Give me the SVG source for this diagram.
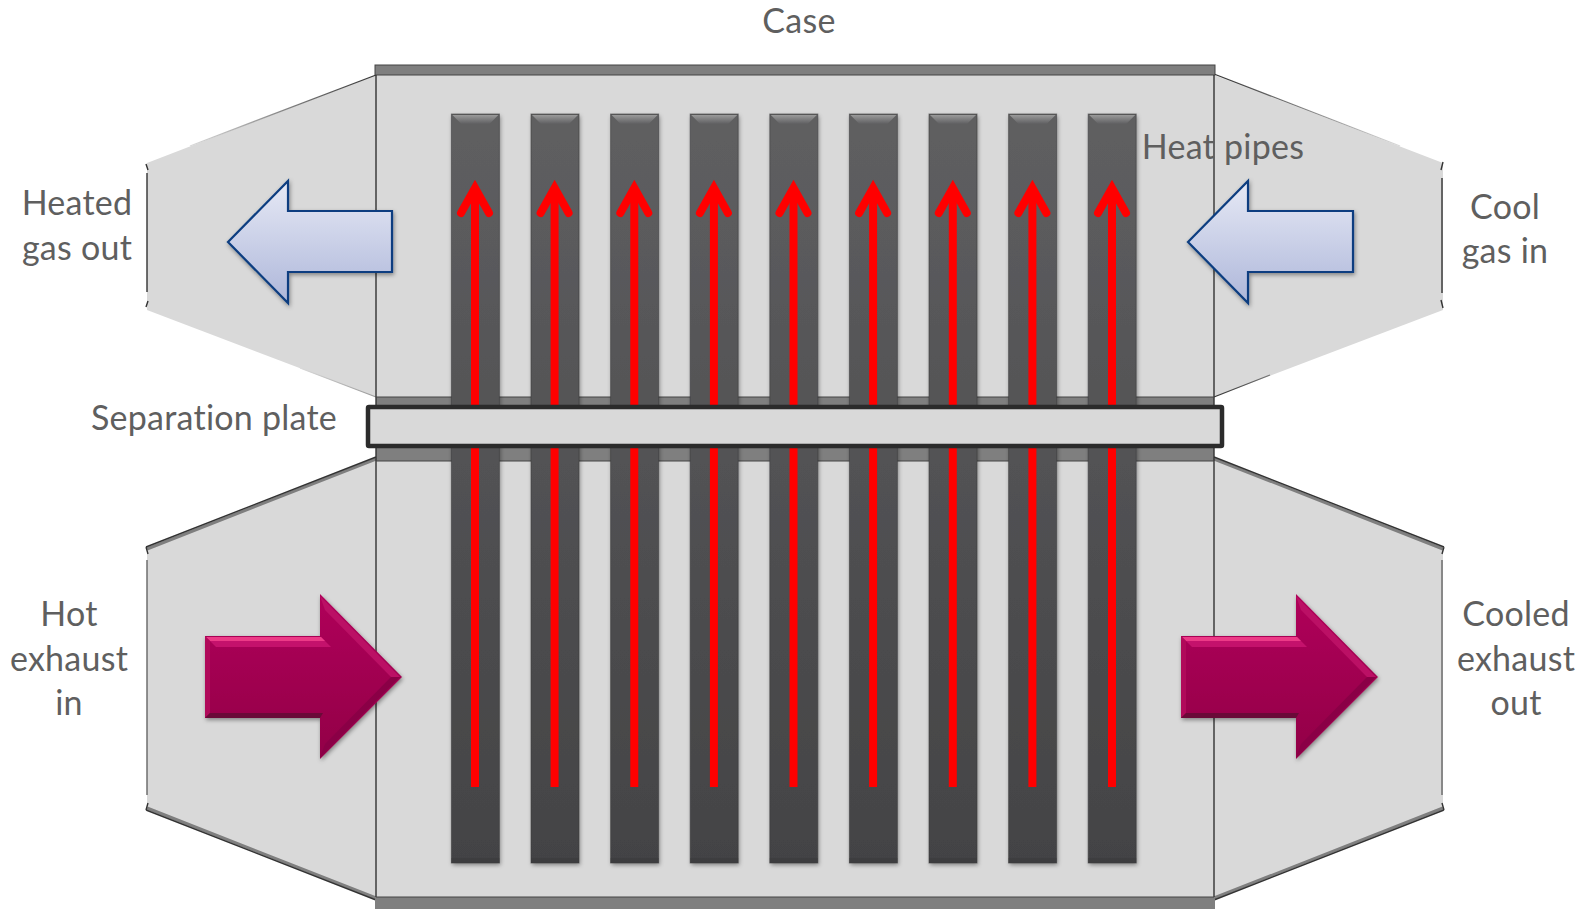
<svg xmlns="http://www.w3.org/2000/svg" xmlns:xlink="http://www.w3.org/1999/xlink" width="1589" height="909" viewBox="0 0 1589 909">
<style>
.t{font-family:"Lato","Open Sans","Liberation Sans",sans-serif;font-size:34px;letter-spacing:.25px;font-variant-ligatures:none;fill:#5f5f5f;text-anchor:middle}
.panel{fill:#d9d9d9}
.edge{fill:none;stroke:#333;stroke-width:1.4}
.band{fill:#7f7f7f}
.flow{fill:none;stroke:#f00;stroke-width:8}
.blue{fill:url(#gb);stroke:#0a3d80;stroke-width:2.2;filter:url(#sh)}
</style>
<defs>
<linearGradient id="gb" x1="0" y1="0" x2="0" y2="1"><stop offset="0" stop-color="#e6e9f5"/><stop offset="1" stop-color="#aeb7da"/></linearGradient>
<linearGradient id="gp" x1="0" y1="0" x2="0" y2="1"><stop offset="0" stop-color="#5f5f61"/><stop offset="1" stop-color="#434345"/></linearGradient>
<linearGradient id="gt" x1="0" y1="0" x2="0" y2="1"><stop offset="0" stop-color="#9a9a9a"/><stop offset="1" stop-color="#5f5f61"/></linearGradient>
<linearGradient id="gm" x1="0" y1="0" x2="0" y2="1"><stop offset="0" stop-color="#b0005a"/><stop offset="1" stop-color="#920047"/></linearGradient>
<linearGradient id="fl1" gradientUnits="userSpaceOnUse" x1="376" y1="75" x2="190" y2="146"><stop offset="0" stop-color="#333"/><stop offset="1" stop-color="#d9d9d9"/></linearGradient>
<linearGradient id="fl2" gradientUnits="userSpaceOnUse" x1="1214" y1="75" x2="1400" y2="146"><stop offset="0" stop-color="#333"/><stop offset="1" stop-color="#d9d9d9"/></linearGradient>
<linearGradient id="fl3" gradientUnits="userSpaceOnUse" x1="376" y1="397" x2="300" y2="368"><stop offset="0" stop-color="#999"/><stop offset="1" stop-color="#d9d9d9"/></linearGradient>
<linearGradient id="fl4" gradientUnits="userSpaceOnUse" x1="1214" y1="397" x2="1270" y2="375"><stop offset="0" stop-color="#333"/><stop offset="1" stop-color="#777"/></linearGradient>
<filter id="sh" x="-15%" y="-15%" width="130%" height="130%"><feDropShadow dx="1" dy="2" stdDeviation="2" flood-color="#000" flood-opacity=".4"/></filter>
<g id="pipe">
<rect x="-24" y="114" width="48" height="749" fill="url(#gp)" filter="url(#sh)"/>
<rect x="-24" y="114" width="48" height="749" fill="none" stroke="#3a3a3c" stroke-opacity=".55" stroke-width="1"/>
<polygon points="-23,115 23,115 14,124 -14,124" fill="url(#gt)"/>
<polygon points="-24,858 24,858 24,863 -24,863" fill="#3a3a3c" opacity=".6"/>
</g>
<g id="hot">
<polygon points="0,42 115,42 115,0 197,83 115,165 115,124 0,124" fill="url(#gm)" filter="url(#sh)"/>
<polygon points="1,43 116,43 126,53 11,53" fill="#c4126c"/>
<polygon points="1,43 116,43 120,47 5,47" fill="#ec3a87"/>
<polygon points="115,2 195,83 186,83 120,16" fill="#bb1065"/>
<polygon points="0,42 5,47 5,119 0,124" fill="#b00a5a"/>
<polygon points="0,124 5,119 118,119 115,124" fill="#6a0a38"/>
<polygon points="115,163 195,83 186,83 120,150" fill="#8a0046"/>
</g>
</defs>
<rect width="1589" height="909" fill="#fff"/>

<g id="funnels">
<polygon class="panel" points="376,75 147,163 147,310 376,397"/>
<polygon class="panel" points="1214,75 1443,163 1443,310 1214,397"/>
<polygon class="panel" points="376,457 147,547 147,810 376,900"/>
<polygon class="panel" points="1214,457 1443,547 1443,810 1214,900"/>
<path d="M376,75L190,146" fill="none" stroke="url(#fl1)" stroke-width="1.3"/>
<path d="M1214,74L1400,146" fill="none" stroke="url(#fl2)" stroke-width="1.3"/>
<path d="M376,397L300,368" fill="none" stroke="url(#fl3)" stroke-width="1.2"/>
<path d="M1214,397L1270,375" fill="none" stroke="url(#fl4)" stroke-width="1.3"/>
<path d="M147,173V292 M146,164L148,170 M146,307L148,301 M1442,178V293 M1443,162L1441,170 M1443,308L1441,300" class="edge"/>
<path d="M376,459L147,549 M1214,459L1443,549 M147,808L376,898 M1214,898L1443,808" fill="none" stroke="#7f7f7f" stroke-width="3"/>
<path d="M376,457L146,547 M1214,457L1444,547 M146,810L376,900 M1214,900L1444,810 M146,547L148,554 M1444,547L1442,554 M146,810L148,803 M1444,810L1442,803" class="edge"/>
<path d="M147,560V795 M1442,560V795" fill="none" stroke="#666" stroke-width="1.4"/>
</g>

<g id="case">
<rect class="panel" x="376" y="75" width="838" height="822"/>
<rect class="band" x="375" y="65" width="840" height="10" stroke="#444" stroke-width="1"/>
<rect class="band" x="376" y="397" width="838" height="64"/>
<rect class="band" x="375" y="897" width="840" height="12"/>
<path d="M376,75V897 M1214,75V897" class="edge"/>
<path d="M376,397H1214 M376,461H1214 M376,897H1214" stroke="#444" stroke-width="1" fill="none"/>
</g>

<g id="heat-pipes">
<use xlink:href="#pipe" href="#pipe" x="475.4"/>
<use xlink:href="#pipe" href="#pipe" x="555"/>
<use xlink:href="#pipe" href="#pipe" x="634.6"/>
<use xlink:href="#pipe" href="#pipe" x="714.2"/>
<use xlink:href="#pipe" href="#pipe" x="793.8"/>
<use xlink:href="#pipe" href="#pipe" x="873.4"/>
<use xlink:href="#pipe" href="#pipe" x="953"/>
<use xlink:href="#pipe" href="#pipe" x="1032.6"/>
<use xlink:href="#pipe" href="#pipe" x="1112.2"/>
</g>

<g id="heat-flow" class="flow">
<g id="f">
<path d="M475,787V190"/>
<path d="M461,213L475,188L489,213" stroke-linecap="round"/>
<polygon points="475,182 481,193 469,193" fill="#f00" stroke="none"/>
</g>
<use xlink:href="#f" href="#f" x="79.6"/>
<use xlink:href="#f" href="#f" x="159.3"/>
<use xlink:href="#f" href="#f" x="238.9"/>
<use xlink:href="#f" href="#f" x="318.5"/>
<use xlink:href="#f" href="#f" x="398.1"/>
<use xlink:href="#f" href="#f" x="477.8"/>
<use xlink:href="#f" href="#f" x="557.4"/>
<use xlink:href="#f" href="#f" x="637"/>
</g>

<g id="separation-plate">
<rect x="368" y="407" width="854" height="39" rx="1" fill="#d9d9d9" stroke="#2b2b2b" stroke-width="4.5"/>
</g>

<g id="arrow-heated-out"><polygon class="blue" points="228,242 288,181 288,211 392,211 392,272 288,272 288,303"/></g>
<g id="arrow-cool-in"><polygon class="blue" points="1188,242 1248,181 1248,211 1353,211 1353,272 1248,272 1248,303"/></g>
<g id="arrow-hot-in"><use xlink:href="#hot" href="#hot" x="205" y="594"/></g>
<g id="arrow-cooled-out"><use xlink:href="#hot" href="#hot" x="1181" y="594"/></g>

<g id="labels">
<text class="t" x="799" y="33">Case</text>
<text class="t" x="1223" y="159">Heat pipes</text>
<text class="t" x="77" y="215">Heated</text>
<text class="t" x="77" y="260">gas out</text>
<text class="t" x="1505" y="219">Cool</text>
<text class="t" x="1505" y="263">gas in</text>
<text class="t" x="214" y="430">Separation plate</text>
<text class="t" x="69" y="626">Hot</text>
<text class="t" x="69" y="671">exhaust</text>
<text class="t" x="69" y="715">in</text>
<text class="t" x="1516" y="626">Cooled</text>
<text class="t" x="1516" y="671">exhaust</text>
<text class="t" x="1516" y="715">out</text>
</g>
</svg>
